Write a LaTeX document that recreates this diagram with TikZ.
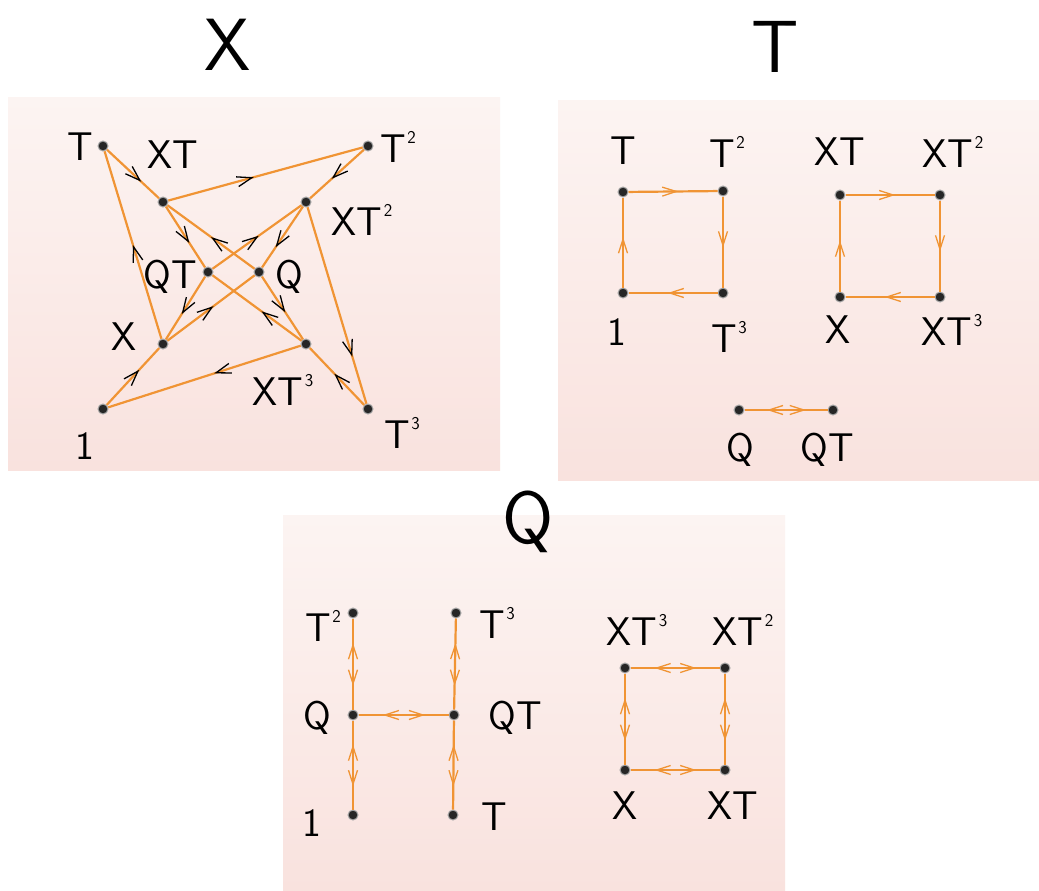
\documentclass[tikz,border=0pt]{standalone}
\usepackage{tikz}
\usetikzlibrary{arrows.meta,decorations.markings}

\definecolor{edgeorange}{RGB}{240,148,52}
\definecolor{patchtop}{RGB}{252,244,242}
\definecolor{patchbot}{RGB}{249,226,222}
\newcommand{\tpow}[1]{\kern1.5pt\raisebox{19pt}{\fontsize{18}{18}\selectfont #1}}

\tikzset{
	dot/.style={circle,fill=black!85,draw=black!35,line width=1pt,inner sep=0pt,minimum size=10pt},
	lbl/.style={font=\sffamily\fontsize{40}{40}\selectfont,inner sep=0pt},
	ttl/.style={font=\sffamily\fontsize{74}{74}\selectfont,inner sep=0pt},
	edge/.style={draw=edgeorange,line width=2.2pt},
	xarrow/.style={edge,postaction={decorate},decoration={markings,
		mark=at position #1 with {\arrow{Straight Barb[length=15pt,width=10pt,line width=1.3pt,color=black]}}}},
	tarrow/.style={edge,postaction={decorate},decoration={markings,
		mark=at position 0.56 with {\arrow{Straight Barb[length=14pt,width=9pt,line width=1.3pt]}}}},
	twoway/.style={edge,postaction={decorate},decoration={markings,
		mark=at position 0.27 with {\arrowreversed{Straight Barb[length=14pt,width=9pt,line width=1.3pt]}},
		mark=at position 0.74 with {\arrow{Straight Barb[length=14pt,width=9pt,line width=1.3pt]}}}}
}

\begin{document}
\begin{tikzpicture}[x=1pt,y=-1pt]
	\useasboundingbox (0,0) rectangle (1039,891);
	\fill[white] (0,0) rectangle (1039,891);
	\shade[top color=patchtop,bottom color=patchbot] (8,97) rectangle (500,470);
	\shade[top color=patchtop,bottom color=patchbot] (558,100) rectangle (1039,480);
	\shade[top color=patchtop,bottom color=patchbot] (283,515) rectangle (785,891);

	\node[ttl] (tX) at (228,45) {X};
	\node[ttl] (tT) at (775,47) {T};
	\node[ttl] (tQ) at (528,522) {Q};

	\foreach \n/\x/\y in {1/103/409,T/103/146,T2/368/146,T3/368/409,X/163/344,XT/163/202,XT2/306/202,XT3/306/344,Q/259/272,QT/208/272}
		\node[dot] (a\n) at (\x,\y) {};
	\foreach \a/\b/\p in {1/X/0.62,X/T/0.5,T/XT/0.66,XT/T2/0.44,T2/XT2/0.6,XT2/T3/0.76,T3/XT3/0.55,XT3/1/0.45,XT/QT/0.6,QT/XT2/0.52,XT2/Q/0.67,Q/XT3/0.57,XT3/QT/0.45,QT/X/0.6,X/Q/0.53,Q/XT/0.5}
		\draw[xarrow=\p] (a\a) -- (a\b);
	\foreach \n/\x/\y/\t in {1/85/446/1,T/80/147/T,T2/398/147/{T\tpow{2}},T3/402/433/{T\tpow{3}},X/124/337/X,XT/173/155/XT,XT2/362/220/{XT\tpow{2}},XT3/283/390/{XT\tpow{3}},Q/289/277/Q,QT/170/277/QT}
		\node[lbl] (la\n) at (\x,\y) {\t};

	\foreach \n/\x/\y in {1/623/293,T/623/192,T2/723/191,T3/723/293,X/840/297,XT/840/195,XT2/940/195,XT3/940/297,Q/739/410,QT/833/410}
		\node[dot] (b\n) at (\x,\y) {};
	\foreach \a/\b in {1/T,T/T2,T2/T3,T3/1,X/XT,XT/XT2,XT2/XT3,XT3/X}
		\draw[tarrow] (b\a) -- (b\b);
	\draw[twoway] (bQ) -- (bQT);
	\foreach \n/\x/\y/\t in {1/617/332/1,T/623/151/T,T2/727/152/{T\tpow{2}},T3/729/337/{T\tpow{3}},X/838/330/X,XT/840/152/XT,XT2/953/152/{XT\tpow{2}},XT3/952/330/{XT\tpow{3}},Q/740/450/Q,QT/827/450/QT}
		\node[lbl] (lb\n) at (\x,\y) {\t};

	\foreach \n/\x/\y in {1/353/815,T/453/815,T2/353/613,T3/456/613,X/625/770,XT/725/770,XT2/725/668,XT3/625/668,Q/353/715,QT/454/715}
		\node[dot] (c\n) at (\x,\y) {};
	\foreach \a/\b in {T2/Q,Q/1,T3/QT,QT/T,Q/QT,XT3/XT2,XT3/X,XT2/XT,X/XT}
		\draw[twoway] (c\a) -- (c\b);
	\foreach \n/\x/\y/\t in {1/312/823/1,T/494/817/T,T2/323/626/{T\tpow{2}},T3/497/623/{T\tpow{3}},X/625/806/X,XT/733/806/XT,XT2/743/630/{XT\tpow{2}},XT3/637/630/{XT\tpow{3}},Q/317/718/Q,QT/515/718/QT}
		\node[lbl] (lc\n) at (\x,\y) {\t};
\end{tikzpicture}
\end{document}
